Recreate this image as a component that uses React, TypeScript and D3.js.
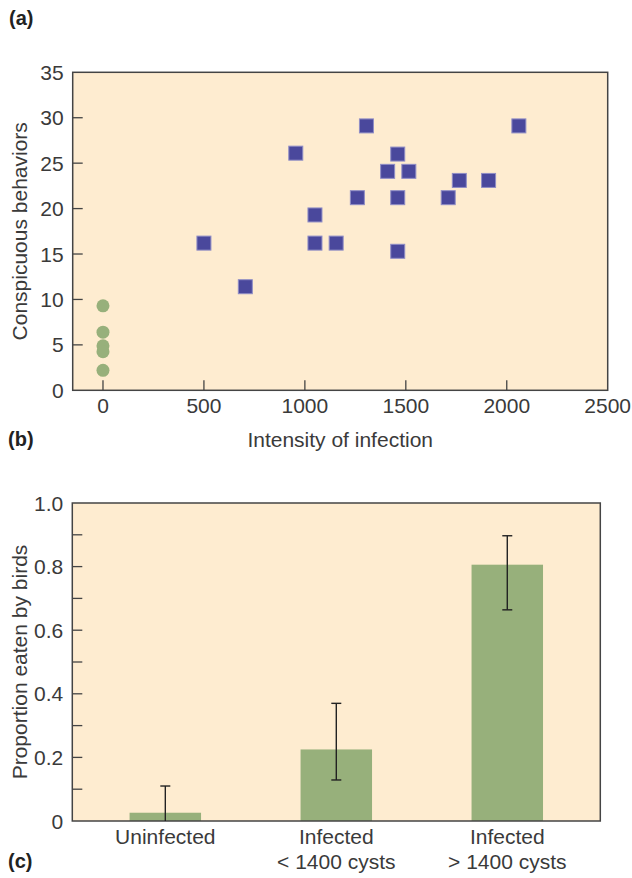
import React from "react";
import * as d3 from "d3";

// ---- Panel (a): scatter ----
const infectedX = [500, 705, 955, 1050, 1050, 1155, 1305, 1260, 1410, 1460, 1460, 1460, 1515, 1710, 1765, 1910, 2060];
const infectedY = [16.2, 11.4, 26.1, 19.3, 16.2, 16.2, 29.1, 21.2, 24.1, 26.0, 21.2, 15.3, 24.1, 21.2, 23.1, 23.1, 29.1];
const uninfectedX = [0, 0, 0, 0, 0];
const uninfectedY = [9.3, 6.4, 4.9, 4.25, 2.2];
const xTickLabels = [0, 500, 1000, 1500, 2000, 2500];
const xTickMarks = [0, 500, 1000, 1500, 2000];
const yTickLabelsA = [0, 5, 10, 15, 20, 25, 30, 35];
const yTickMarksA = [5, 10, 15, 20, 25, 30];

// ---- Panel (b): bars ----
const categories = ["Uninfected", "Infected\n< 1400 cysts", "Infected\n> 1400 cysts"];
const proportions = [0.026, 0.225, 0.806];
const errLow = [0, 0.129, 0.664];
const errHigh = [0.11, 0.37, 0.897];
const yTickLabelsB = [0, 0.2, 0.4, 0.6, 0.8, 1.0];
const yTickMarksB = [0.1, 0.2, 0.3, 0.4, 0.5, 0.6, 0.7, 0.8, 0.9];

const FONT = "'Liberation Sans', Arial, Helvetica, sans-serif";
const BG = "#feecd0";
const TEXT = "#3a3a3a";
const FS = 21;

export default function App() {
  // panel a geometry
  const a = { left: 72.7, right: 607.7, top: 72.3, bottom: 390.3 };
  const xA = d3.scaleLinear().domain([-150, 2500]).range([a.left, a.right]);
  const yA = d3.scaleLinear().domain([0, 35]).range([a.bottom, a.top]);

  // panel b geometry
  const b = { left: 72.3, right: 600.3, top: 503, bottom: 821 };
  const xB = d3
    .scaleBand<string>()
    .domain(categories)
    .range([b.left, b.right])
    .paddingInner(0.582)
    .paddingOuter(0.335);
  const yB = d3.scaleLinear().domain([0, 1]).range([b.bottom, b.top]);
  const fmtB = (v: number) => (v === 0 ? "0" : d3.format(".1f")(v));

  const sq = 14;
  const cap = 5;

  return (
    <svg
      width={632}
      height={878}
      style={{ position: "absolute", left: 0, top: 0, background: "#fff" }}
      fontFamily={FONT}
    >
      {/* panel labels */}
      <text x={9} y={25} fontSize={20} fontWeight="bold" fill="#222">(a)</text>
      <text x={8} y={446} fontSize={20} fontWeight="bold" fill="#222">(b)</text>
      <text x={8} y={868} fontSize={20} fontWeight="bold" fill="#222">(c)</text>

      {/* ===== Panel a ===== */}
      <rect x={a.left} y={a.top} width={a.right - a.left} height={a.bottom - a.top} fill={BG} />
      {yTickMarksA.map((t) => (
        <line key={"ya" + t} x1={a.left} x2={a.left + 10} y1={yA(t)} y2={yA(t)} stroke="#444" strokeWidth={1.3} />
      ))}
      {xTickMarks.map((t) => (
        <line key={"xa" + t} x1={xA(t)} x2={xA(t)} y1={a.bottom} y2={a.bottom - 10} stroke="#444" strokeWidth={1.3} />
      ))}
      {uninfectedY.map((v, i) => (
        <circle key={"c" + i} cx={xA(uninfectedX[i])} cy={yA(v)} r={6.5} fill="#97b07b" />
      ))}
      {infectedY.map((v, i) => (
        <rect
          key={"s" + i}
          x={xA(infectedX[i]) - sq / 2}
          y={yA(v) - sq / 2}
          width={sq}
          height={sq}
          fill="#4a489c"
          stroke="#8f8dc6"
          strokeWidth={1}
        />
      ))}
      <rect x={a.left} y={a.top} width={a.right - a.left} height={a.bottom - a.top} fill="none" stroke="#444" strokeWidth={1.5} />
      {yTickLabelsA.map((t) => (
        <text key={"yla" + t} x={a.left - 9} y={yA(t) + 7.5} textAnchor="end" fontSize={FS} fill={TEXT}>
          {t}
        </text>
      ))}
      {xTickLabels.map((t) => (
        <text key={"xla" + t} x={xA(t)} y={412.5} textAnchor="middle" fontSize={FS} fill={TEXT}>
          {t}
        </text>
      ))}
      <text x={(a.left + a.right) / 2} y={447} textAnchor="middle" fontSize={FS} fill={TEXT}>
        Intensity of infection
      </text>
      <text
        transform={`translate(27,${(a.top + a.bottom) / 2}) rotate(-90)`}
        textAnchor="middle"
        fontSize={FS}
        fill={TEXT}
      >
        Conspicuous behaviors
      </text>

      {/* ===== Panel b ===== */}
      <rect x={b.left} y={b.top} width={b.right - b.left} height={b.bottom - b.top} fill={BG} />
      {yTickMarksB.map((t) => (
        <line key={"yb" + t} x1={b.left} x2={b.left + 10} y1={yB(t)} y2={yB(t)} stroke="#444" strokeWidth={1.3} />
      ))}
      {categories.map((c, i) => (
        <rect
          key={"bar" + i}
          x={xB(c)!}
          y={yB(proportions[i])}
          width={xB.bandwidth()}
          height={yB(0) - yB(proportions[i])}
          fill="#97b07b"
        />
      ))}
      <rect x={b.left} y={b.top} width={b.right - b.left} height={b.bottom - b.top} fill="none" stroke="#444" strokeWidth={1.5} />
      {categories.map((c, i) => {
        const cx = xB(c)! + xB.bandwidth() / 2;
        return (
          <g key={"err" + i} stroke="#222" strokeWidth={1.4}>
            <line x1={cx} x2={cx} y1={yB(errLow[i])} y2={yB(errHigh[i])} />
            <line x1={cx - cap} x2={cx + cap} y1={yB(errHigh[i])} y2={yB(errHigh[i])} />
            {errLow[i] > 0 && <line x1={cx - cap} x2={cx + cap} y1={yB(errLow[i])} y2={yB(errLow[i])} />}
          </g>
        );
      })}
      {yTickLabelsB.map((t) => (
        <text key={"ylb" + t} x={b.left - 9} y={yB(t) + 7.5} textAnchor="end" fontSize={FS} fill={TEXT}>
          {fmtB(t)}
        </text>
      ))}
      {categories.map((c, i) => {
        const cx = xB(c)! + xB.bandwidth() / 2;
        return c.split("\n").map((line, j) => (
          <text key={"cl" + i + j} x={cx} y={844 + j * 25} textAnchor="middle" fontSize={FS} fill={TEXT}>
            {line}
          </text>
        ));
      })}
      <text
        transform={`translate(27,${(b.top + b.bottom) / 2}) rotate(-90)`}
        textAnchor="middle"
        fontSize={FS}
        fill={TEXT}
      >
        Proportion eaten by birds
      </text>
    </svg>
  );
}
